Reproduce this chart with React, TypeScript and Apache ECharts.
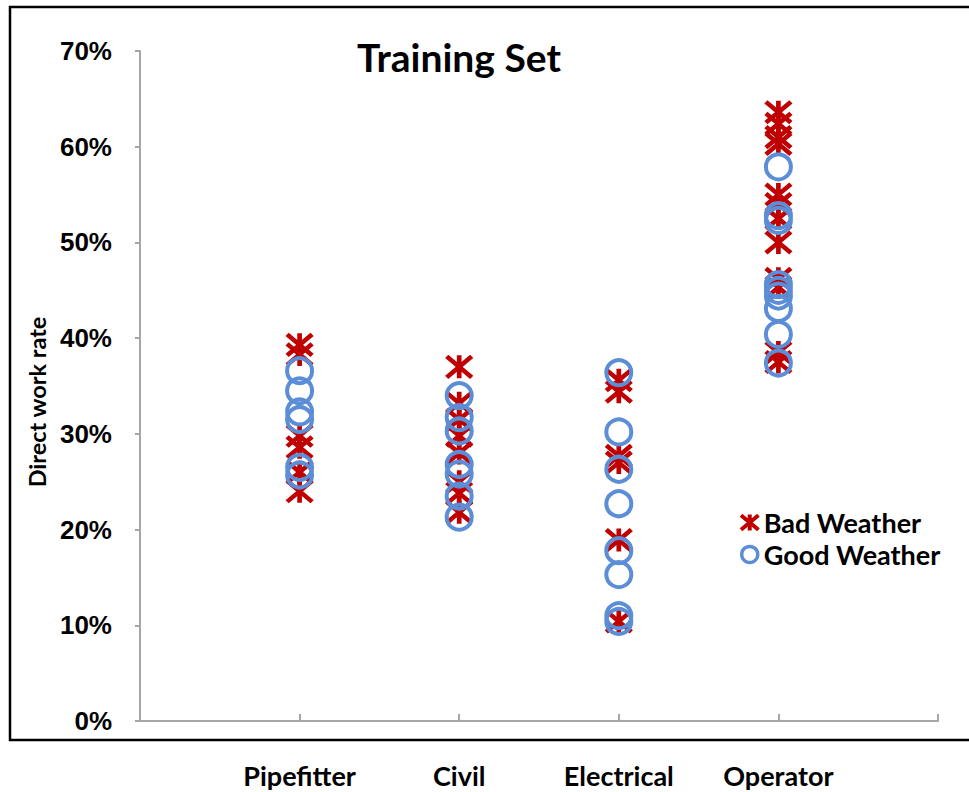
import React, { useEffect, useRef } from "react";
import * as echarts from "echarts";

const categories = ["Pipefitter", "Civil", "Electrical", "Operator"];
const yTicks = [0, 10, 20, 30, 40, 50, 60, 70];

// Direct work rate (%) per category
const badPipefitter = [39.3, 38.3, 29.8, 28.6, 26.0, 24.0];
const badCivil = [37.0, 33.2, 31.5, 29.8, 28.0, 25.0, 23.8, 21.8];
const badElectrical = [35.6, 34.4, 27.7, 27.0, 18.9, 10.4];
const badOperator = [63.6, 62.4, 61.0, 60.3, 55.0, 54.0, 52.5, 50.0, 46.2, 45.3, 38.5, 37.5];

const goodPipefitter = [36.6, 34.5, 32.3, 31.5, 26.5, 25.7];
const goodCivil = [34.0, 31.7, 30.3, 26.8, 25.8, 23.5, 21.3];
const goodElectrical = [36.4, 30.2, 26.3, 22.7, 17.8, 15.3, 11.0, 10.4];
const goodOperator = [57.9, 52.8, 52.3, 45.6, 45.0, 44.4, 43.1, 40.4, 37.4];

const badGroups = [badPipefitter, badCivil, badElectrical, badOperator];
const goodGroups = [goodPipefitter, goodCivil, goodElectrical, goodOperator];

const toPoints = (groups: number[][]) =>
  groups.flatMap((vals, i) => vals.map((v) => [i + 1, v]));

const RED = "#C00000";
const BLUE = "#5B8ED6";
const AXIS = "#A6A6A6";
const STAR = "path://M0 1L24 21M24 1L0 21M12 0L12 22";

export default function App() {
  const ref = useRef<HTMLDivElement>(null);
  useEffect(() => {
    if (!ref.current) return;
    const chart = echarts.init(ref.current, undefined, { renderer: "svg" });
    chart.setOption({
      animation: false,
      backgroundColor: "#fff",
      title: {
        text: "Training Set",
        left: 352,
        top: 32,
        textStyle: { fontFamily: "Lato", fontWeight: "bold", fontSize: 39, color: "#000" },
      },
      legend: {
        orient: "vertical",
        left: 734,
        top: 504,
        itemWidth: 18,
        itemHeight: 16,
        itemGap: 5,
        textStyle: { fontFamily: "Lato", fontWeight: "bold", fontSize: 27, color: "#000" },
        data: [
          { name: "Bad Weather", itemStyle: { color: "rgba(0,0,0,0)", borderColor: RED, borderWidth: 4, opacity: 1 } },
          { name: "Good Weather", itemStyle: { color: "rgba(0,0,0,0)", borderColor: BLUE, borderWidth: 3.5, opacity: 1 } },
        ],
      },
      grid: { left: 140, right: 31, top: 51, bottom: 71 },
      xAxis: {
        type: "value",
        min: 0,
        max: 5,
        interval: 1,
        splitLine: { show: false },
        axisLine: { show: true, lineStyle: { color: AXIS, width: 2 } },
        axisTick: { show: true, inside: true, length: 7, lineStyle: { color: AXIS, width: 2 } },
        axisLabel: {
          margin: 41,
          fontFamily: "Lato",
          fontWeight: "bold",
          fontSize: 27,
          color: "#000",
          formatter: (v: number) => categories[v - 1] ?? "",
        },
      },
      yAxis: {
        type: "value",
        min: yTicks[0],
        max: yTicks[yTicks.length - 1],
        interval: 10,
        splitLine: { show: false },
        axisLine: { show: true, lineStyle: { color: AXIS, width: 2 } },
        axisTick: { show: true, inside: false, length: 5, lineStyle: { color: AXIS, width: 2 } },
        axisLabel: {
          margin: 28,
          fontFamily: "Liberation Sans",
          fontWeight: "bold",
          fontSize: 26,
          color: "#000",
          formatter: "{value}%",
        },
      },
      graphic: [
        {
          type: "rect",
          silent: true,
          z: -1,
          shape: { x: 10, y: 7, width: 990, height: 733 },
          style: { fill: "none", stroke: "#000", lineWidth: 2.5 },
        },
        {
          type: "text",
          silent: true,
          x: 37,
          y: 402,
          rotation: Math.PI / 2,
          style: {
            text: "Direct work rate",
            fontFamily: "Lato",
            fontWeight: "bold",
            fontSize: 23.5,
            fill: "#000",
            align: "center",
            verticalAlign: "middle",
          },
        },
      ],
      series: [
        {
          name: "Bad Weather",
          type: "scatter",
          symbol: STAR,
          symbolSize: [25, 23],
          itemStyle: { color: "rgba(0,0,0,0)", borderColor: RED, borderWidth: 4.5, opacity: 1 },
          data: toPoints(badGroups),
          z: 2,
        },
        {
          name: "Good Weather",
          type: "scatter",
          symbol: "circle",
          symbolSize: 25,
          itemStyle: { color: "rgba(0,0,0,0)", borderColor: BLUE, borderWidth: 4, opacity: 1 },
          data: toPoints(goodGroups),
          z: 3,
        },
      ],
    });
    return () => chart.dispose();
  }, []);
  return (
    <div
      ref={ref}
      style={{ position: "absolute", left: 0, top: 0, width: 969, height: 792 }}
    />
  );
}
